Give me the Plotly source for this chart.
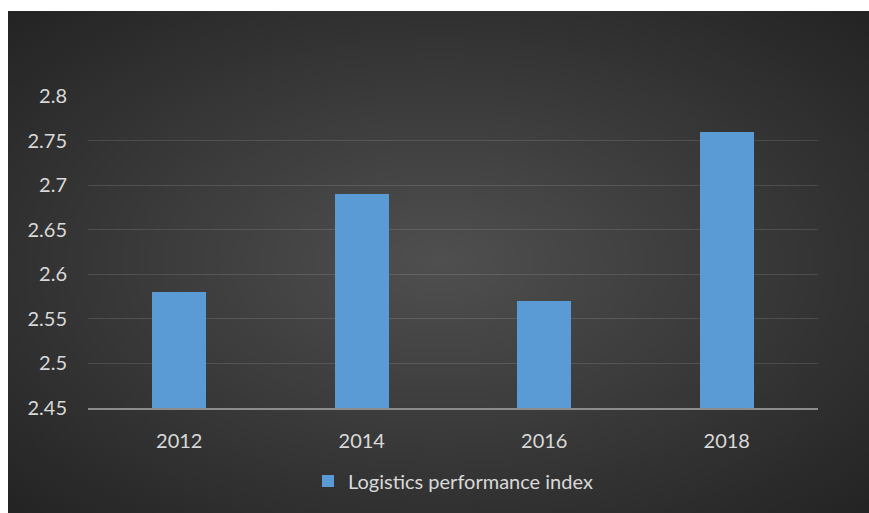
import base64
import struct
import zlib

import numpy as np
import plotly.graph_objects as go

# Data
years = ["2012", "2014", "2016", "2018"]
lpi_values = [2.58, 2.69, 2.57, 2.76]
series_name = "Logistics performance index"
y_ticks = [2.45, 2.5, 2.55, 2.6, 2.65, 2.7, 2.75, 2.8]
y_tick_labels = ["2.45", "2.5", "2.55", "2.6", "2.65", "2.7", "2.75", "2.8"]

W, H = 869, 513
PLOT_L, PLOT_R, PLOT_T, PLOT_B = 88, 818, 96, 408
CARD_L, CARD_T = 8, 11


def radial_png(w, h, inner, outer):
    """Build a small PNG with an elliptical radial gradient (dark chart card)."""
    ys, xs = np.mgrid[0:h, 0:w]
    cx, cy = (w - 1) / 2, (h - 1) / 2
    d = np.sqrt(((xs - cx) / (w / 2)) ** 2 + ((ys - cy) / (h / 2)) ** 2) / np.sqrt(2)
    d = np.clip(d, 0, 1)
    inner = np.array(inner, dtype=float)
    outer = np.array(outer, dtype=float)
    img = inner[None, None, :] * (1 - d[..., None]) + outer[None, None, :] * d[..., None]
    img = img.clip(0, 255).astype(np.uint8)
    raw = b"".join(b"\x00" + img[r].tobytes() for r in range(h))

    def chunk(tag, data):
        c = struct.pack(">I", len(data)) + tag + data
        return c + struct.pack(">I", zlib.crc32(tag + data) & 0xFFFFFFFF)

    png = b"\x89PNG\r\n\x1a\n"
    png += chunk(b"IHDR", struct.pack(">IIBBBBB", w, h, 8, 2, 0, 0, 0))
    png += chunk(b"IDAT", zlib.compress(raw, 9))
    png += chunk(b"IEND", b"")
    return "data:image/png;base64," + base64.b64encode(png).decode()


bg_src = radial_png(216, 126, (80, 80, 80), (36, 36, 36))

plot_w = PLOT_R - PLOT_L
plot_h = PLOT_B - PLOT_T

fig = go.Figure()
fig.add_trace(
    go.Bar(
        x=years,
        y=lpi_values,
        name=series_name,
        width=0.296,
        marker=dict(color="#5b9bd5", line=dict(width=0)),
        showlegend=True,
    )
)

text_color = "#d9d9d9"
font_family = "Lato, 'Open Sans', sans-serif"

fig.update_layout(
    width=W,
    height=H,
    margin=dict(l=PLOT_L, r=W - PLOT_R, t=PLOT_T, b=H - PLOT_B, pad=0),
    paper_bgcolor="white",
    plot_bgcolor="rgba(0,0,0,0)",
    font=dict(family=font_family, color=text_color, size=20),
    bargap=0,
    images=[
        dict(
            source=bg_src,
            xref="paper",
            yref="paper",
            x=(CARD_L - PLOT_L) / plot_w,
            y=(PLOT_B - CARD_T) / plot_h,
            sizex=(W - CARD_L) / plot_w,
            sizey=(H - CARD_T) / plot_h,
            xanchor="left",
            yanchor="top",
            sizing="stretch",
            layer="below",
        )
    ],
    xaxis=dict(
        showgrid=False,
        showline=True,
        linecolor="#8c8c8c",
        linewidth=2,
        ticks="",
        tickfont=dict(size=20, color=text_color),
        ticklabelstandoff=14,
    ),
    yaxis=dict(
        range=[2.45, 2.8],
        tickvals=y_ticks,
        ticktext=y_tick_labels,
        showgrid=True,
        gridcolor="rgba(255,255,255,0.12)",
        gridwidth=1,
        zeroline=False,
        showline=False,
        ticks="",
        tickfont=dict(size=20, color=text_color),
        ticklabelstandoff=20,
    ),
    legend=dict(
        orientation="h",
        x=0.5,
        xanchor="center",
        y=(PLOT_B - 481) / plot_h,
        yanchor="middle",
        bgcolor="rgba(0,0,0,0)",
        font=dict(size=20, color=text_color),
        itemsizing="constant",
    ),
)

fig.write_html("out.html")
